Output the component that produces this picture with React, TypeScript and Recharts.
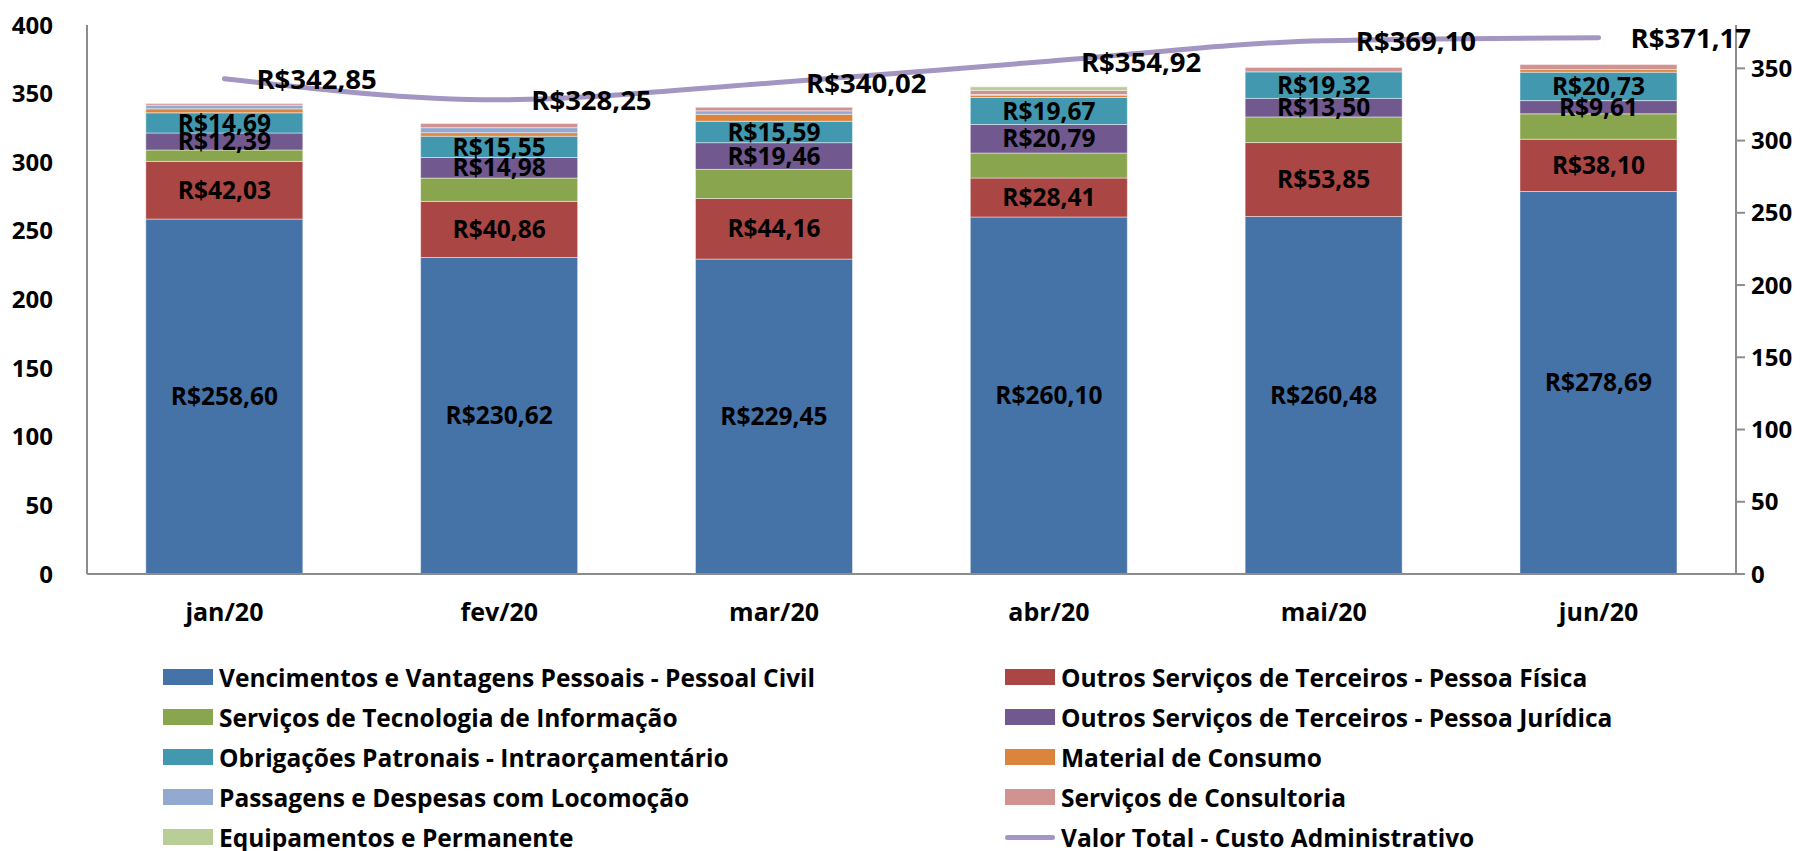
import {
  Bar,
  ComposedChart,
  LabelList,
  Legend,
  Line,
  XAxis,
  YAxis,
} from "recharts";

const months = ["jan/20", "fev/20", "mar/20", "abr/20", "mai/20", "jun/20"];

const vencimentos = [258.6, 230.62, 229.45, 260.1, 260.48, 278.69];
const pessoaFisica = [42.03, 40.86, 44.16, 28.41, 53.85, 38.1];
const tecnologia = [8.3, 17.0, 21.2, 18.2, 18.7, 18.5];
const pessoaJuridica = [12.39, 14.98, 19.46, 20.79, 13.5, 9.61];
const obrigacoes = [14.69, 15.55, 15.59, 19.67, 19.32, 20.73];
const materialConsumo = [2.9, 2.5, 5.1, 1.7, 0, 1.9];
const passagens = [2.7, 3.7, 2.5, 0.5, 0, 0];
const consultoria = [1.24, 3.04, 2.56, 3.0, 3.25, 3.64];
const equipamentos = [0, 0, 0, 2.55, 0, 0];
const valorTotal = [342.85, 328.25, 340.02, 354.92, 369.1, 371.17];

const leftTicks = [0, 50, 100, 150, 200, 250, 300, 350, 400];
const rightTicks = [0, 50, 100, 150, 200, 250, 300, 350];

const series = [
  { key: "venc", name: "Vencimentos e Vantagens Pessoais - Pessoal Civil", values: vencimentos, color: "#4572a7", label: true },
  { key: "pf", name: "Outros Serviços de Terceiros - Pessoa Física", values: pessoaFisica, color: "#aa4643", label: true },
  { key: "tec", name: "Serviços de Tecnologia de Informação", values: tecnologia, color: "#89a54e", label: false },
  { key: "pj", name: "Outros Serviços de Terceiros - Pessoa Jurídica", values: pessoaJuridica, color: "#71588f", label: true },
  { key: "obr", name: "Obrigações Patronais - Intraorçamentário", values: obrigacoes, color: "#4198af", label: true },
  { key: "mat", name: "Material de Consumo", values: materialConsumo, color: "#db843d", label: false },
  { key: "pass", name: "Passagens e Despesas com Locomoção", values: passagens, color: "#93a9cf", label: false },
  { key: "cons", name: "Serviços de Consultoria", values: consultoria, color: "#d19392", label: false },
  { key: "equip", name: "Equipamentos e Permanente", values: equipamentos, color: "#b9cd96", label: false },
];

const totalName = "Valor Total - Custo Administrativo";
const totalColor = "#a396c2";

const data = months.map((month, i) => {
  const row: Record<string, string | number> = { month, total: valorTotal[i] };
  series.forEach((s) => (row[s.key] = s.values[i]));
  return row;
});

const FONT = "'Open Sans', 'Noto Sans', sans-serif";

const money = (v: unknown) => `R$${Number(v).toFixed(2).replace(".", ",")}`;

function LegendBox() {
  const items = [
    ...series.map((s) => ({ name: s.name, color: s.color, line: false })),
    { name: totalName, color: totalColor, line: true },
  ];
  return (
    <div
      style={{
        height: 194,
        display: "grid",
        gridTemplateColumns: "842px 1fr",
        gridAutoRows: "40px",
        paddingLeft: 155,
        fontFamily: FONT,
        fontWeight: 700,
        fontSize: 24.5,
        color: "#000",
      }}
    >
      {items.map((it) => (
        <div key={it.name} style={{ display: "flex", alignItems: "center", whiteSpace: "nowrap" }}>
          {it.line ? (
            <span style={{ width: 50, height: 5, borderRadius: 3, background: it.color, marginRight: 6 }} />
          ) : (
            <span style={{ width: 50, height: 16, background: it.color, marginRight: 6 }} />
          )}
          {it.name}
        </div>
      ))}
    </div>
  );
}

function TotalLabel(props: any) {
  const { x, y, value } = props;
  return (
    <text
      x={Number(x) + 32}
      y={Number(y)}
      dominantBaseline="central"
      textAnchor="start"
      fontFamily={FONT}
      fontWeight={700}
      fontSize={27.5}
      fill="#000"
    >
      {money(value)}
    </text>
  );
}

export default function App() {
  const tickStyle = { fill: "#000", fontSize: 24, fontWeight: 700, fontFamily: FONT };
  return (
    <div style={{ width: 1796, height: 843, fontFamily: FONT }}>
      <ComposedChart
        width={1796}
        height={843}
        data={data}
        margin={{ top: 17, right: 0, left: 0, bottom: 0 }}
        barCategoryGap="21.4%"
      >
        <XAxis
          dataKey="month"
          tickLine={false}
          tickSize={0}
          tickMargin={29}
          height={83}
          axisLine={{ stroke: "#8c8c8c", strokeWidth: 2 }}
          tick={{ ...tickStyle, fontSize: 25 }}
          interval={0}
        />
        <YAxis
          yAxisId="left"
          domain={[0, 400]}
          ticks={leftTicks}
          width={79}
          tickLine={false}
          tickSize={0}
          tickMargin={34}
          axisLine={{ stroke: "#8c8c8c", strokeWidth: 2 }}
          tick={tickStyle}
          allowDataOverflow
        />
        <YAxis
          yAxisId="right"
          orientation="right"
          domain={[0, 380]}
          ticks={rightTicks}
          width={68}
          tickSize={9}
          tickMargin={6}
          tickLine={{ stroke: "#8c8c8c", strokeWidth: 2 }}
          axisLine={{ stroke: "#8c8c8c", strokeWidth: 2 }}
          tick={tickStyle}
          allowDataOverflow
        />
        <Legend
          verticalAlign="bottom"
          wrapperStyle={{ left: 0, width: 1796 }}
          content={() => <LegendBox />}
        />
        {series.map((s) => (
          <Bar
            key={s.key}
            dataKey={s.key}
            name={s.name}
            stackId="a"
            yAxisId="left"
            fill={s.color}
            stroke="#ffffff"
            strokeOpacity={0.45}
            strokeWidth={1}
            isAnimationActive={false}
          >
            {s.label && (
              <LabelList
                dataKey={s.key}
                position="center"
                formatter={money}
                fill="#000"
                fontSize={24.5}
                fontWeight={700}
                fontFamily={FONT}
              />
            )}
          </Bar>
        ))}
        <Line
          dataKey="total"
          name={totalName}
          yAxisId="right"
          type="monotone"
          stroke={totalColor}
          strokeWidth={5}
          strokeLinecap="round"
          dot={false}
          isAnimationActive={false}
        >
          <LabelList dataKey="total" content={TotalLabel} />
        </Line>
      </ComposedChart>
    </div>
  );
}
